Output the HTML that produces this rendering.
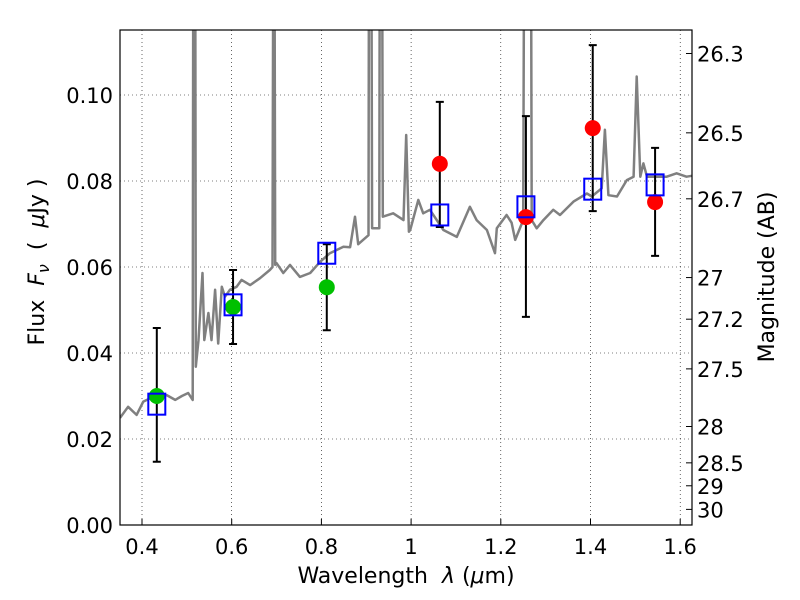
<!DOCTYPE html>
<html><head><meta charset="utf-8"><style>
body{margin:0;background:#fff;}
svg{display:block;font-family:"DejaVu Sans","Liberation Sans",sans-serif;}
</style></head><body>
<svg id="chart" width="800" height="600" viewBox="0 0 800 600" xmlns="http://www.w3.org/2000/svg">
<rect width="800" height="600" fill="#fff"/>
<defs><clipPath id="plotclip"><rect x="120" y="30" width="572" height="495"/></clipPath></defs>
<g id="grid"></g>
<g id="spec" clip-path="url(#plotclip)"></g>
<g id="marks"></g>
<rect x="120" y="30" width="572" height="495" fill="none" stroke="#000" stroke-width="1.2"/>
<g id="axes"></g>
<text x="406" y="583" font-size="22" text-anchor="middle" xml:space="preserve">Wavelength  <tspan font-style="italic">λ</tspan> (<tspan font-style="italic">μ</tspan>m)</text>
<text transform="translate(44,262) rotate(-90)" font-size="22" text-anchor="middle" xml:space="preserve">Flux  <tspan font-style="italic">F</tspan><tspan font-style="italic" font-size="16" dy="5">ν</tspan><tspan dy="-5">  (  </tspan><tspan font-style="italic">μ</tspan>Jy )</text>
<text transform="translate(774,277) rotate(-90)" font-size="22" text-anchor="middle">Magnitude (AB)</text>
</svg>
<script>
const specWave=[0.351,0.369,0.388,0.403,0.425,0.455,0.474,0.489,0.503,0.513,0.515,0.518,0.520,0.526,0.535,0.539,0.548,0.555,0.563,0.570,0.578,0.585,0.596,0.611,0.622,0.641,0.663,0.685,0.691,0.694,0.697,0.700,0.715,0.730,0.752,0.775,0.797,0.819,0.849,0.864,0.875,0.882,0.905,0.907,0.910,0.913,0.916,0.929,0.931,0.934,0.937,0.960,0.983,0.989,0.995,0.998,1.016,1.027,1.042,1.072,1.102,1.131,1.146,1.169,1.187,1.191,1.213,1.224,1.232,1.250,1.254,1.256,1.263,1.266,1.269,1.280,1.295,1.317,1.332,1.362,1.392,1.403,1.425,1.432,1.440,1.459,1.481,1.496,1.503,1.511,1.518,1.526,1.570,1.592,1.614,1.626];
const specFlux=[0.0249,0.0275,0.0256,0.0287,0.0298,0.0302,0.0291,0.0300,0.0307,0.0291,0.2,0.2,0.0368,0.0430,0.0586,0.0430,0.0493,0.0430,0.0547,0.0422,0.0554,0.0531,0.0547,0.0554,0.0570,0.0558,0.0574,0.0593,0.0600,0.2,0.0605,0.0609,0.0586,0.0605,0.0577,0.0586,0.0612,0.0632,0.0647,0.0646,0.0717,0.0653,0.0674,0.2,0.2,0.0690,0.0690,0.0690,0.2,0.2,0.0717,0.0725,0.0709,0.0907,0.0682,0.0686,0.0756,0.0725,0.0733,0.0686,0.0670,0.0740,0.0709,0.0686,0.0632,0.0690,0.0721,0.0703,0.0663,0.0709,0.2,0.2,0.2,0.2,0.0709,0.0690,0.0709,0.0733,0.0721,0.0752,0.0771,0.0764,0.0783,0.0919,0.0767,0.0764,0.0802,0.0810,0.1043,0.0810,0.0841,0.0810,0.0810,0.0818,0.0810,0.0812];
const greenWave=[0.433,0.603,0.812];
const greenFlux=[0.0300,0.0507,0.0553];
const redWave=[1.064,1.256,1.405,1.544];
const redFlux=[0.0840,0.0716,0.0923,0.0751];
const errWave=[0.433,0.603,0.812,1.064,1.256,1.405,1.544];
const errLo=[0.0147,0.0421,0.0453,0.0693,0.0484,0.0730,0.0626];
const errHi=[0.0458,0.0593,0.0653,0.0984,0.0951,0.1116,0.0877];
const modelWave=[0.433,0.603,0.812,1.064,1.256,1.405,1.544];
const modelFlux=[0.0281,0.0512,0.0632,0.0721,0.0740,0.0781,0.0791];
const xTicks=[0.4,0.6,0.8,1.0,1.2,1.4,1.6];
const xTickLabels=["0.4","0.6","0.8","1","1.2","1.4","1.6"];
const yTicks=[0,0.02,0.04,0.06,0.08,0.10];
const yTickLabels=["0.00","0.02","0.04","0.06","0.08","0.10"];
const magTicks=[26.3,26.5,26.7,27,27.2,27.5,28,28.5,29,30];
const magTickLabels=["26.3","26.5","26.7","27","27.2","27.5","28","28.5","29","30"];

const NS="http://www.w3.org/2000/svg";
const X=v=>142+(v-0.4)*448.5;
const Y=v=>525-v*4300;
const magToFlux=m=>Math.pow(10,(23.9-m)/2.5);
function mk(tag,attrs,parent){const e=document.createElementNS(NS,tag);for(const k in attrs)e.setAttribute(k,attrs[k]);parent.appendChild(e);return e;}
const grid=document.getElementById('grid'),axes=document.getElementById('axes'),spec=document.getElementById('spec'),marks=document.getElementById('marks');

xTicks.forEach((t,i)=>{
  const g=mk('line',{x1:X(t),x2:X(t),y1:30,y2:525,stroke:'#000','stroke-width':0.6,'stroke-dasharray':'1,3'},grid);
  
  
  const tk=mk('line',{x1:X(t),x2:X(t),y1:525,y2:519,stroke:'#000','stroke-width':1},axes);
  
  
  const tx=mk('text',{x:X(t),y:554,'font-size':21,'text-anchor':'middle'},axes);
  tx.textContent=xTickLabels[i];
  
  
});
yTicks.forEach((t,i)=>{
  if(t>0){const g=mk('line',{x1:120,x2:692,y1:Y(t),y2:Y(t),stroke:'#000','stroke-width':0.6,'stroke-dasharray':'1,3'},grid);
  
  }
  const tx=mk('text',{x:113,y:Y(t)+8,'font-size':21,'text-anchor':'end'},axes);
  tx.textContent=yTickLabels[i];
  
  
});
magTicks.forEach((m,i)=>{
  const y=Y(magToFlux(m));
  const tk=mk('line',{x1:686,x2:692,y1:y,y2:y,stroke:'#000','stroke-width':1},axes);
  
  
  const tx=mk('text',{x:697,y:y+8,'font-size':21},axes);
  tx.textContent=magTickLabels[i];
  
  
});
const pts=specWave.map((w,i)=>X(w).toFixed(1)+','+Y(specFlux[i]).toFixed(1)).join(' ');
const pl=mk('polyline',{points:pts,fill:'none',stroke:'#808080','stroke-width':2.5,'stroke-linejoin':'round'},spec);



errWave.forEach((w,i)=>{
  const x=X(w);
  const l=mk('path',{d:`M${x},${Y(errHi[i])}V${Y(errLo[i])}M${x-4},${Y(errHi[i])}h8M${x-4},${Y(errLo[i])}h8`,stroke:'#000','stroke-width':2,fill:'none'},marks);
  
  
});
greenWave.forEach((w,i)=>{
  const c=mk('circle',{cx:X(w),cy:Y(greenFlux[i]),r:8,fill:'#00c000'},marks);
  
  
});
redWave.forEach((w,i)=>{
  const c=mk('circle',{cx:X(w),cy:Y(redFlux[i]),r:8,fill:'#ff0000'},marks);
  
  
});
modelWave.forEach((w,i)=>{
  const r=mk('rect',{x:X(w)-8.5,y:Y(modelFlux[i])-10.5,width:17,height:21,fill:'none',stroke:'#0000ff','stroke-width':2},marks);
  
  
});
</script>
</body></html>
